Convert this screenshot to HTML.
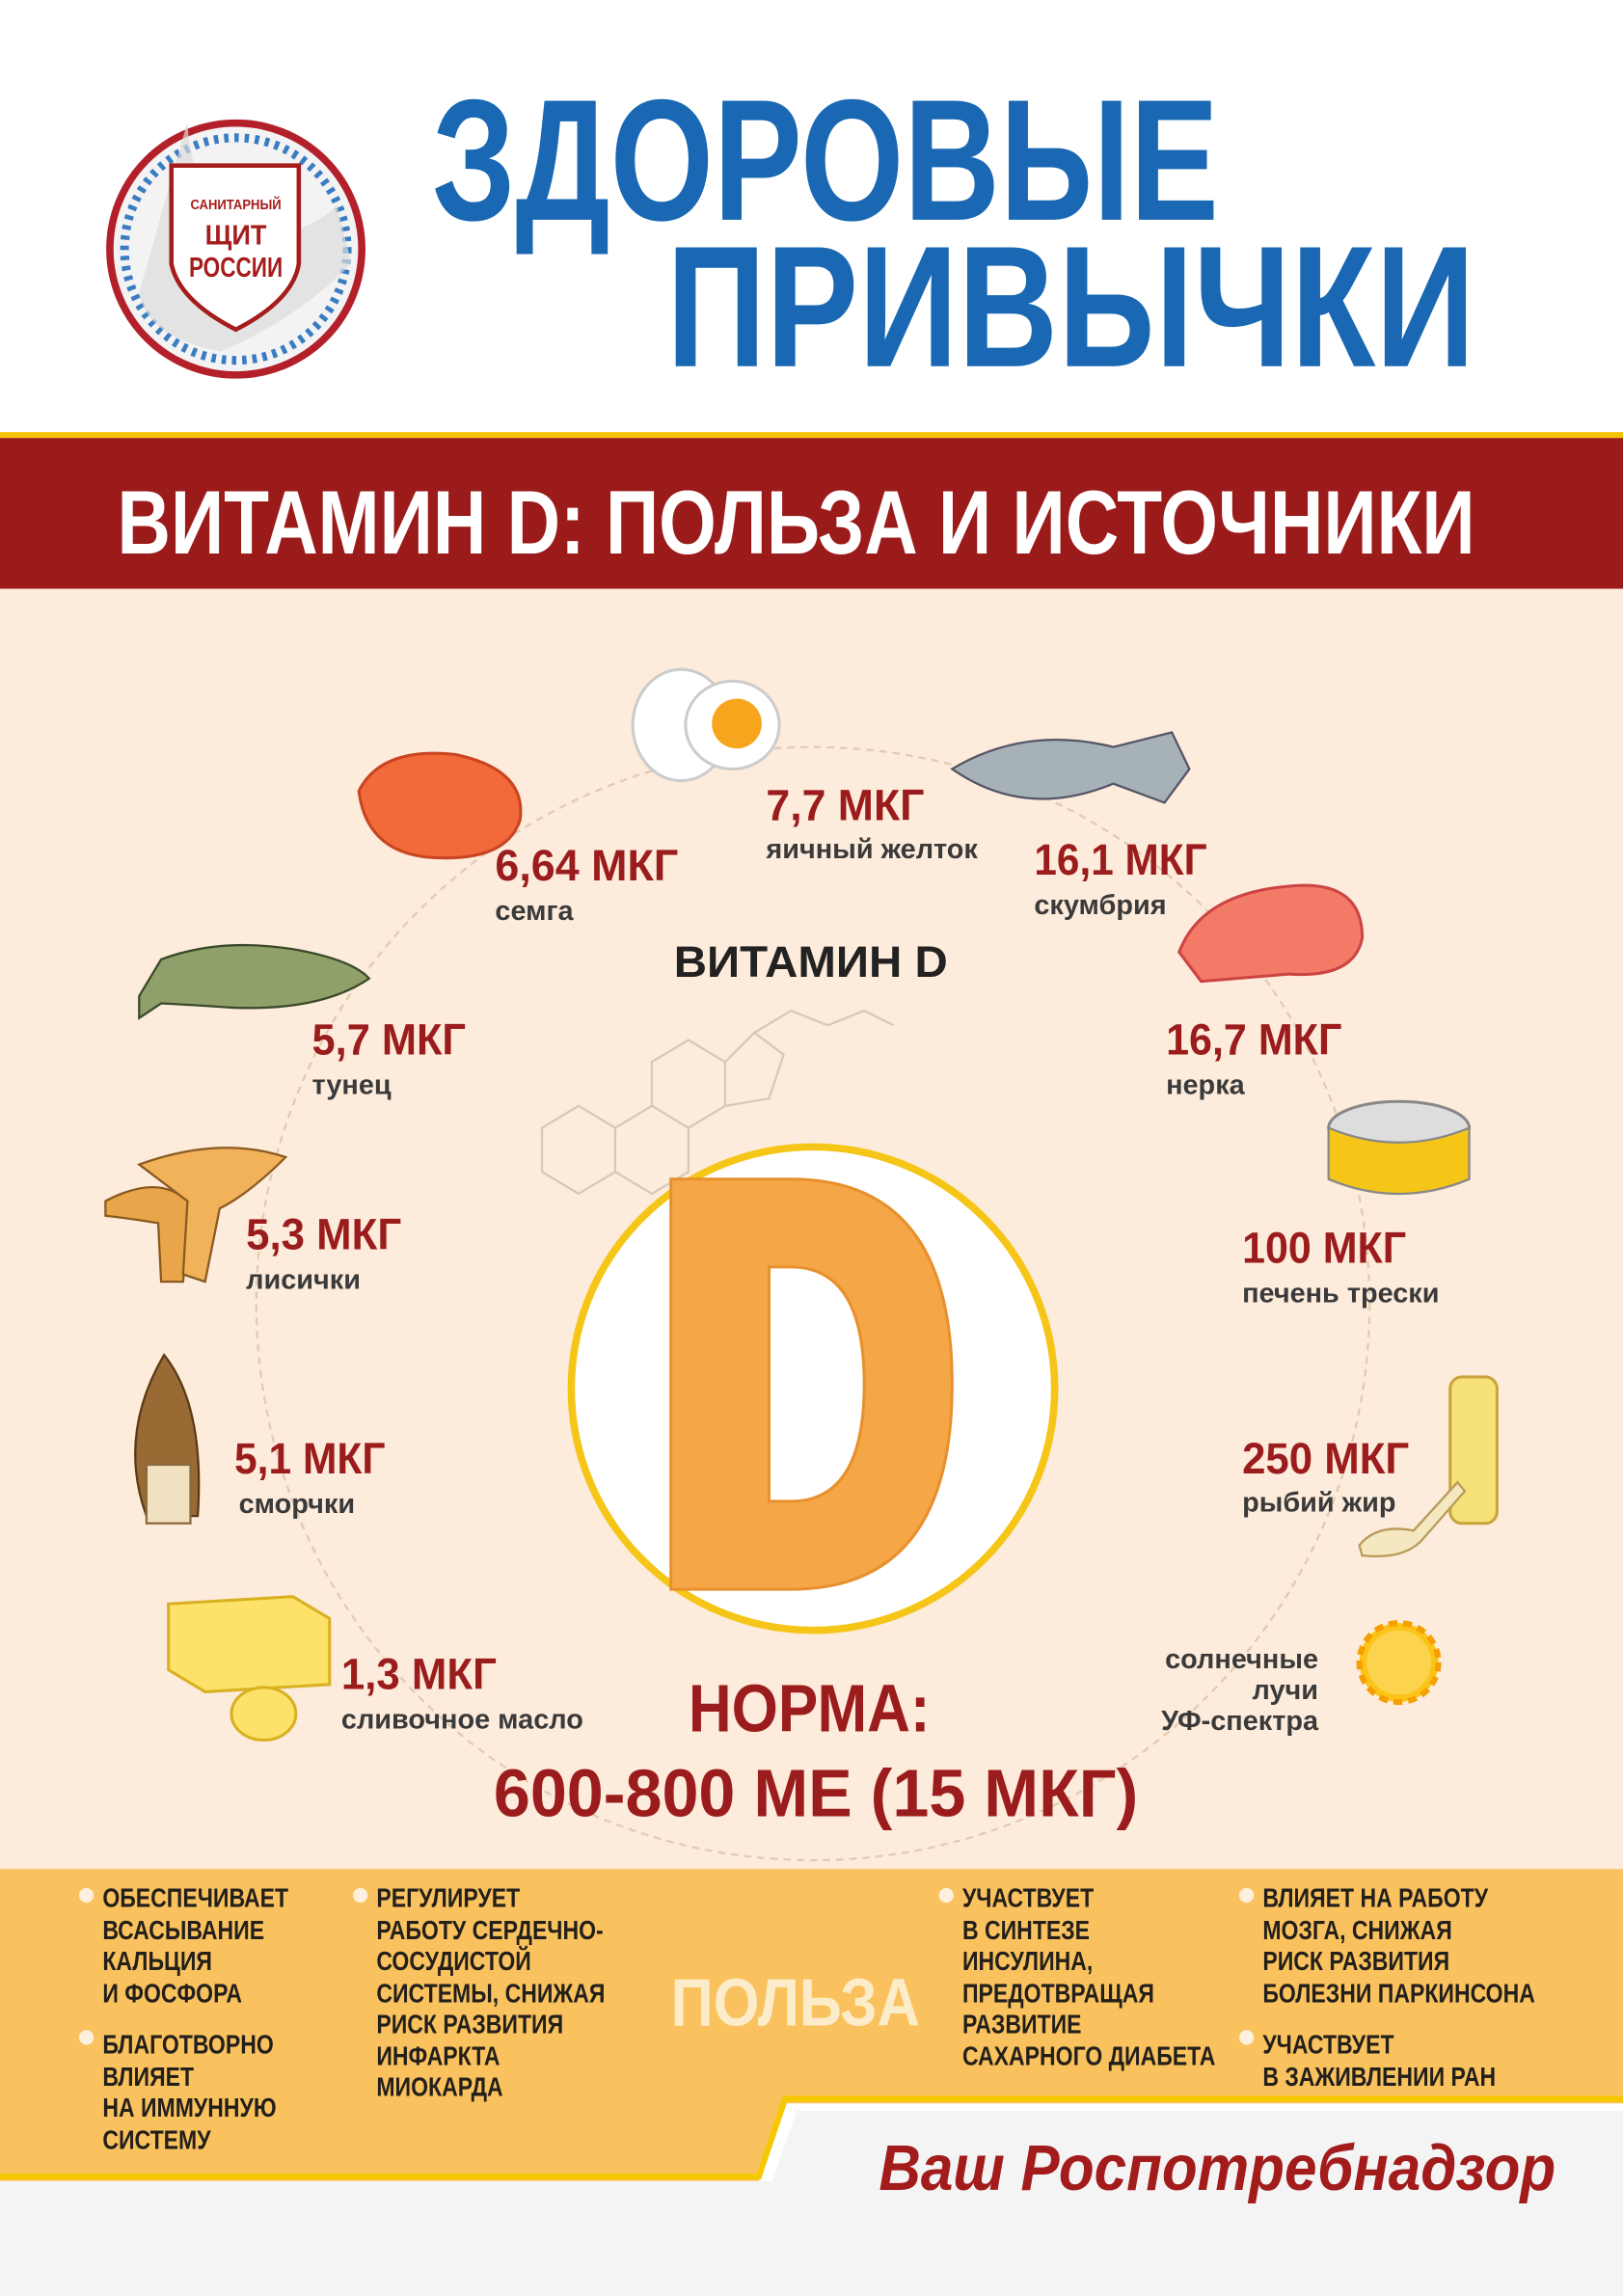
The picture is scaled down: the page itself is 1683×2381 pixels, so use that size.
<!DOCTYPE html>
<html><head><meta charset="utf-8"><style>html,body{margin:0;padding:0;background:#fff}svg{display:block}</style></head>
<body>
<svg width="1683" height="2381" viewBox="0 0 1108 1567.5" xmlns="http://www.w3.org/2000/svg" font-family="'Liberation Sans Narrow','Liberation Sans',sans-serif" font-weight="bold">
<rect width="1108" height="1567.5" fill="#fff"/>
<!-- logo -->
<circle cx="161" cy="170" r="86" fill="#f3f3f3" stroke="#b3202a" stroke-width="5"/>
<circle cx="161" cy="170" r="76" fill="none" stroke="#3a7cc2" stroke-width="6" stroke-dasharray="3 4"/>
<path d="M128 83 Q130 130 160 150 Q200 170 230 140 L240 180 Q200 220 150 240 Q100 230 95 200 Z" fill="#dcdcdc" opacity="0.7"/>
<path d="M117 113 H204 V180 Q200 205 161 225 Q122 205 117 180 Z" fill="#fff" stroke="#a51c1c" stroke-width="3"/>
<text x="161" y="143" font-size="10" fill="#a51c1c" text-anchor="middle" textLength="62" lengthAdjust="spacingAndGlyphs">САНИТАРНЫЙ</text>
<text x="161" y="167" font-size="19" fill="#a51c1c" text-anchor="middle" textLength="42" lengthAdjust="spacingAndGlyphs">ЩИТ</text>
<text x="161" y="189" font-size="19" fill="#a51c1c" text-anchor="middle" textLength="64" lengthAdjust="spacingAndGlyphs">РОССИИ</text>
<!-- title -->
<text x="295" y="150" font-size="118" fill="#1a68b3" textLength="537" lengthAdjust="spacingAndGlyphs">ЗДОРОВЫЕ</text>
<text x="455" y="250" font-size="118" fill="#1a68b3" textLength="552" lengthAdjust="spacingAndGlyphs">ПРИВЫЧКИ</text>
<rect x="0" y="295" width="1108" height="4" fill="#f5c400"/>
<rect x="0" y="299" width="1108" height="103" fill="#9b1b1b"/>
<text x="80" y="378" font-size="62" fill="#fff" textLength="927" lengthAdjust="spacingAndGlyphs">ВИТАМИН D: ПОЛЬЗА И ИСТОЧНИКИ</text>
<rect x="0" y="402" width="1108" height="875" fill="#fdebdb"/>
<circle cx="555" cy="890" r="380" fill="none" stroke="#e2cbb3" stroke-width="1.5" stroke-dasharray="5 4"/>
<!-- molecule -->
<g stroke="#d8c8b8" fill="none" stroke-width="1.5">
<path d="M370 770 L395 755 L420 770 L420 800 L395 815 L370 800 Z M420 770 L445 755 L470 770 L470 800 L445 815 L420 800 M445 755 L445 725 L470 710 L495 725 L495 755 L470 770 M495 725 L515 705 L535 720 L525 750 L495 755 M515 705 L540 690 L565 700 L590 690 L610 700"/>
</g>
<text x="460" y="667" font-size="30" fill="#222" font-family="'Liberation Sans',sans-serif" textLength="187" lengthAdjust="spacingAndGlyphs">ВИТАМИН D</text>
<!-- big D -->
<circle cx="555" cy="948" r="165" fill="#fff" stroke="#f5c518" stroke-width="5"/>
<path d="M458 805 H540 Q650 805 650 945 Q650 1085 540 1085 H458 Z M525 865 V1025 H540 Q590 1025 590 945 Q590 865 540 865 Z" fill="#f5a747" stroke="#e8902c" stroke-width="2" fill-rule="evenodd"/>
<!-- food shapes -->
<ellipse cx="465" cy="495" rx="33" ry="38" fill="#fff" stroke="#ccc" stroke-width="2"/>
<ellipse cx="500" cy="495" rx="32" ry="30" fill="#fff" stroke="#ccc" stroke-width="2"/>
<circle cx="503" cy="494" r="17" fill="#f6a51c"/>
<path d="M650 525 Q700 495 760 510 L800 500 L812 525 L795 548 L760 535 Q700 560 650 525 Z" fill="#a6b2b8" stroke="#556" stroke-width="1.5"/>
<path d="M245 540 Q260 510 310 515 Q360 525 355 560 Q345 590 290 585 Q250 580 245 540 Z" fill="#f26a3a" stroke="#c94420" stroke-width="2"/>
<path d="M95 680 L110 655 Q150 640 200 648 Q240 655 252 668 Q220 690 160 688 Q130 686 110 685 L95 695 Z" fill="#8fa06a" stroke="#3c4a2a" stroke-width="1.5"/>
<path d="M805 650 Q820 610 880 605 Q930 600 930 640 Q925 668 880 665 L820 670 Z" fill="#f27a66" stroke="#c44" stroke-width="2"/>
<ellipse cx="955" cy="770" rx="48" ry="18" fill="#ddd" stroke="#888" stroke-width="2"/>
<path d="M907 770 V805 Q955 825 1003 805 V770 Q955 790 907 770 Z" fill="#f5c518" stroke="#888" stroke-width="1.5"/>
<path d="M72 820 Q110 800 130 822 L125 875 L110 875 L108 835 Q90 832 72 830 Z" fill="#e8a54a" stroke="#8a5a20" stroke-width="1.5"/>
<path d="M95 795 Q150 775 195 790 Q170 815 150 825 L140 875 L125 870 L128 820 Z" fill="#f2b25a" stroke="#8a5a20" stroke-width="1.5"/>
<path d="M100 1035 Q80 980 112 925 Q140 960 135 1035 Z" fill="#9a6a35" stroke="#5a3a15" stroke-width="1.5"/>
<rect x="100" y="1000" width="30" height="40" fill="#f1e1c0" stroke="#8a6a40" stroke-width="1.5"/>
<rect x="990" y="940" width="32" height="100" rx="8" fill="#f7e279" stroke="#c9a43a" stroke-width="2"/>
<path d="M928 1055 Q940 1040 965 1045 L995 1012 L1000 1018 L972 1050 Q960 1065 930 1062 Z" fill="#f5e8c0" stroke="#b89a5a" stroke-width="1.5"/>
<path d="M115 1095 L200 1090 L225 1105 L225 1150 L140 1155 L115 1140 Z" fill="#fde26a" stroke="#d8b020" stroke-width="2"/>
<ellipse cx="180" cy="1170" rx="22" ry="18" fill="#fde26a" stroke="#d8b020" stroke-width="2"/>
<circle cx="955" cy="1135" r="27" fill="#fcc419" stroke="#f59f00" stroke-width="4" stroke-dasharray="6 4"/>
<circle cx="955" cy="1135" r="22" fill="#fcd34d"/>
<!-- labels -->
<g fill="#9b1c1c" font-size="30">
<text x="523" y="560" textLength="108" lengthAdjust="spacingAndGlyphs">7,7 МКГ</text>
<text x="338" y="601" textLength="125" lengthAdjust="spacingAndGlyphs">6,64 МКГ</text>
<text x="706" y="597" textLength="118" lengthAdjust="spacingAndGlyphs">16,1 МКГ</text>
<text x="213" y="720" textLength="105" lengthAdjust="spacingAndGlyphs">5,7 МКГ</text>
<text x="796" y="720" textLength="120" lengthAdjust="spacingAndGlyphs">16,7 МКГ</text>
<text x="168" y="853" textLength="106" lengthAdjust="spacingAndGlyphs">5,3 МКГ</text>
<text x="848" y="862" textLength="112" lengthAdjust="spacingAndGlyphs">100 МКГ</text>
<text x="160" y="1006" textLength="103" lengthAdjust="spacingAndGlyphs">5,1 МКГ</text>
<text x="848" y="1006" textLength="114" lengthAdjust="spacingAndGlyphs">250 МКГ</text>
<text x="233" y="1153" textLength="106" lengthAdjust="spacingAndGlyphs">1,3 МКГ</text>
</g>
<g fill="#3a3a3a" font-size="19" font-family="'Liberation Sans',sans-serif">
<text x="523" y="586">яичный желток</text>
<text x="338" y="628">семга</text>
<text x="706" y="624">скумбрия</text>
<text x="213" y="747">тунец</text>
<text x="796" y="747">нерка</text>
<text x="168" y="880">лисички</text>
<text x="848" y="889">печень трески</text>
<text x="163" y="1033">сморчки</text>
<text x="848" y="1032">рыбий жир</text>
<text x="233" y="1180">сливочное масло</text>
<text x="900" y="1139" text-anchor="end">солнечные</text>
<text x="900" y="1160" text-anchor="end">лучи</text>
<text x="900" y="1181" text-anchor="end">УФ-спектра</text>
</g>
<text x="470" y="1182" font-size="46" fill="#9b1c1c" textLength="165" lengthAdjust="spacingAndGlyphs">НОРМА:</text>
<text x="337" y="1240" font-size="46" fill="#9b1c1c" textLength="440" lengthAdjust="spacingAndGlyphs">600-800 МЕ (15 МКГ)</text>
<!-- footer -->
<rect x="0" y="1489" width="1108" height="80" fill="#f4f4f4"/>
<path d="M0 1276 H1108 V1436 H536 L518 1489 H0 Z" fill="#f9c25e"/>
<path d="M0 1486 H518 L536 1433 H1108" fill="none" stroke="#f6c800" stroke-width="4"/>
<path d="M544 1441 H1108 V1567 H500 Z" fill="#f4f4f4"/>
<text x="600" y="1495" font-size="44" fill="#a31c1c" font-style="italic" textLength="462" lengthAdjust="spacingAndGlyphs">Ваш Роспотребнадзор</text>
<text x="458" y="1383" font-size="46" fill="#fdecca" textLength="170" lengthAdjust="spacingAndGlyphs">ПОЛЬЗА</text>
<g fill="#fdf0dc"><circle cx="59" cy="1294" r="5"/><circle cx="59" cy="1391" r="5"/><circle cx="246" cy="1294" r="5"/><circle cx="646" cy="1294" r="5"/><circle cx="851" cy="1294" r="5"/><circle cx="851" cy="1391" r="5"/></g>
<g fill="#231f1a" font-size="18.5">
<g transform="translate(70,0) scale(0.82,1)">
<text x="0" y="1302">ОБЕСПЕЧИВАЕТ</text><text x="0" y="1324">ВСАСЫВАНИЕ</text><text x="0" y="1345">КАЛЬЦИЯ</text><text x="0" y="1367">И ФОСФОРА</text>
<text x="0" y="1402">БЛАГОТВОРНО</text><text x="0" y="1424">ВЛИЯЕТ</text><text x="0" y="1445">НА ИММУННУЮ</text><text x="0" y="1467">СИСТЕМУ</text>
</g>
<g transform="translate(257,0) scale(0.82,1)">
<text x="0" y="1302">РЕГУЛИРУЕТ</text><text x="0" y="1324">РАБОТУ СЕРДЕЧНО-</text><text x="0" y="1345">СОСУДИСТОЙ</text><text x="0" y="1367">СИСТЕМЫ, СНИЖАЯ</text><text x="0" y="1388">РИСК РАЗВИТИЯ</text><text x="0" y="1410">ИНФАРКТА</text><text x="0" y="1431">МИОКАРДА</text>
</g>
<g transform="translate(657,0) scale(0.82,1)">
<text x="0" y="1302">УЧАСТВУЕТ</text><text x="0" y="1324">В СИНТЕЗЕ</text><text x="0" y="1345">ИНСУЛИНА,</text><text x="0" y="1367">ПРЕДОТВРАЩАЯ</text><text x="0" y="1388">РАЗВИТИЕ</text><text x="0" y="1410">САХАРНОГО ДИАБЕТА</text>
</g>
<g transform="translate(862,0) scale(0.82,1)">
<text x="0" y="1302">ВЛИЯЕТ НА РАБОТУ</text><text x="0" y="1324">МОЗГА, СНИЖАЯ</text><text x="0" y="1345">РИСК РАЗВИТИЯ</text><text x="0" y="1367">БОЛЕЗНИ ПАРКИНСОНА</text>
<text x="0" y="1402">УЧАСТВУЕТ</text><text x="0" y="1424">В ЗАЖИВЛЕНИИ РАН</text>
</g>
</g>
</svg>
</body></html>
